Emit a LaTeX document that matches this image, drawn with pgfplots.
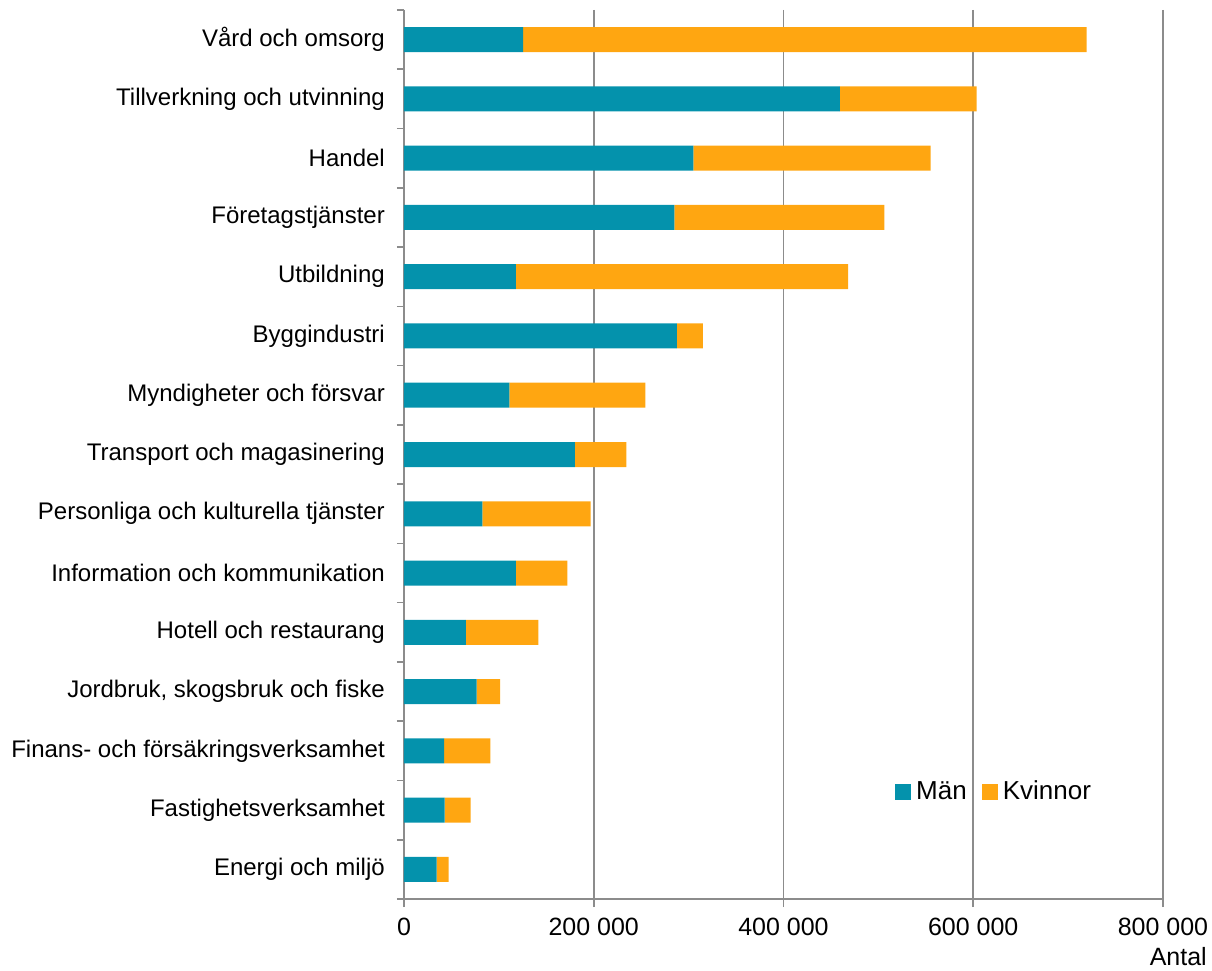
\documentclass[border=0pt]{standalone}
\usepackage{fontspec}
\setmainfont{Liberation Sans}
\usepackage{pgfplots}
\pgfplotsset{compat=1.18}
\usepackage{pgfplotstable}
\definecolor{man}{RGB}{4,146,172}
\definecolor{kvinna}{RGB}{255,166,17}
\definecolor{gridgray}{RGB}{140,140,140}
\pgfplotstableread{
idx man kvinnor
0 125500 594000
1 459500 144100
2 304900 250200
3 284900 221400
4 118000 350000
5 287700 27400
6 111000 143400
7 180200 54100
8 82500 114300
9 118000 54100
10 65300 76300
11 76600 24600
12 42200 48800
13 42900 27400
14 34500 12600
}\data
\begin{document}
\fontsize{24}{28}\selectfont
\begin{tikzpicture}
\path[use as bounding box] (-404pt,-72pt) rectangle (808pt,899pt);
\begin{axis}[
  at={(0pt,0pt)}, anchor=south west,
  scale only axis,
  width=759pt, height=889pt,
  xbar stacked,
  bar width=25pt,
  xmin=0, xmax=800000,
  ymin=-0.5, ymax=14.5,
  y dir=reverse,
  axis x line*=bottom,
  axis y line*=left,
  axis line style={draw=gridgray, line width=1.6pt, -},
  xtick={0,200000,400000,600000,800000},
  xticklabels={0,200 000,400 000,600 000,800 000},
  scaled x ticks=false,
  xmajorgrids=true,
  major grid style={draw=gridgray, line width=1.6pt},
  tick align=outside,
  major tick length=8pt,
  minor tick length=7pt,
  every tick/.style={draw=gridgray, line width=1.6pt},
  ytick={0,...,14},
  major y tick style={draw=none},
  minor ytick={-0.5,0.5,...,14.5},
  yticklabels={V{\aa}rd och omsorg,Tillverkning och utvinning,Handel,F{\"o}retagstj{\"a}nster,Utbildning,Byggindustri,Myndigheter och f{\"o}rsvar,Transport och magasinering,Personliga och kulturella tj{\"a}nster,Information och kommunikation,Hotell och restaurang,{Jordbruk, skogsbruk och fiske\ },Finans- och f{\"o}rs{\"a}kringsverksamhet,Fastighetsverksamhet,Energi och milj{\"o}},
  yticklabel style={font=\fontsize{24}{28}\selectfont, inner sep=0pt, anchor=east, xshift=-11pt},
  xticklabel style={font=\fontsize{25}{29}\selectfont, inner sep=0pt, anchor=north, yshift=-11pt},
  legend style={at={(rel axis cs:0.643,0.12)}, anchor=west, draw=none, fill=none,
    font=\fontsize{26}{30}\selectfont, legend columns=-1,
    /tikz/every even column/.append style={column sep=13pt}},
  legend image code/.code={\fill[#1] (0pt,-8pt) rectangle (16pt,8pt); \path (19pt,0pt);},
  clip=false,
]
\addplot[fill=man, draw=none] table[x=man, y=idx] {\data};
\addplot[fill=kvinna, draw=none] table[x=kvinnor, y=idx] {\data};
\legend{M{\"a}n,Kvinnor}
\node[anchor=north east, inner sep=0pt, font=\fontsize{25}{29}\selectfont] at (rel axis cs:1,0) [xshift=44pt, yshift=-48pt] {Antal};
\end{axis}
\end{tikzpicture}
\end{document}
